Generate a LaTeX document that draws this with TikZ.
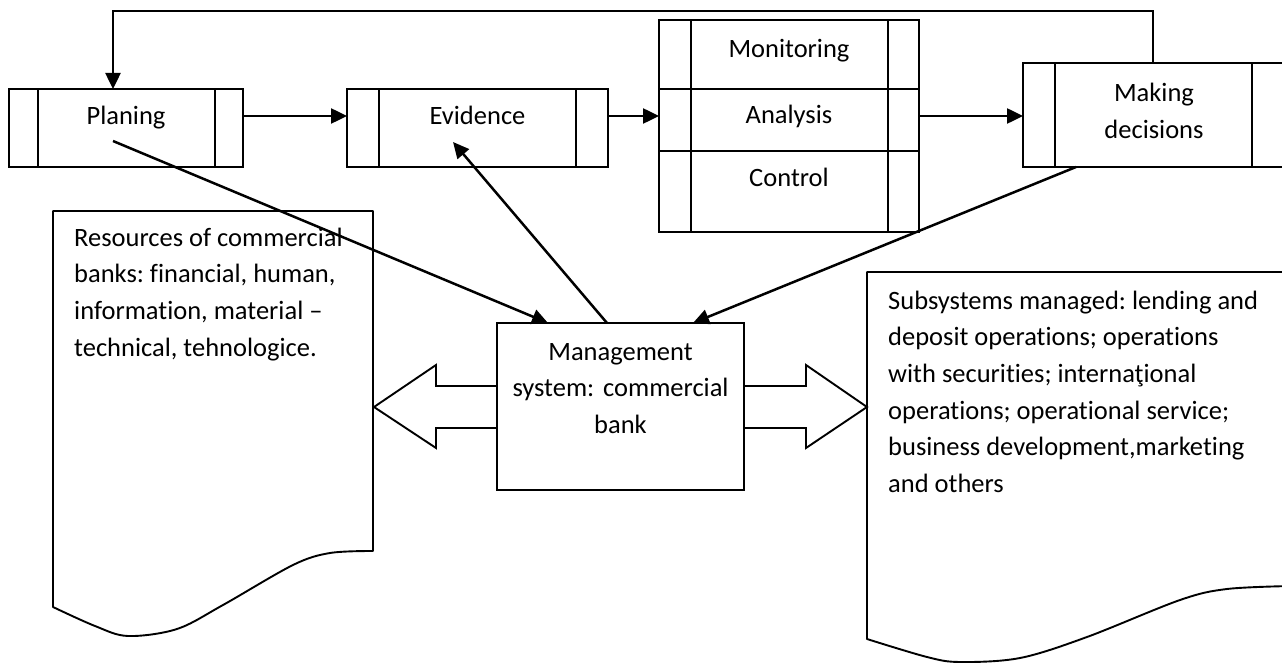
\documentclass[tikz,border=0pt]{standalone}
\usepackage{fontspec}
\setmainfont{Carlito}[Ligatures=NoCommon]
\usetikzlibrary{positioning, calc}
\usetikzlibrary{arrows.meta}
\tikzstyle{procbox}=[draw, line width=1.9pt, rectangle, inner sep=0pt, outer sep=0pt, align=center]
\tikzstyle{sysbox}=[draw, line width=1.9pt, rectangle, fill=white, inner sep=0pt, outer sep=0pt, align=center]
\tikzstyle{edgepath}=[-{Triangle[length=16pt,width=15pt]}, line width=2.5pt]
\tikzstyle{docpath}=[draw, line width=1.9pt, line join=round]
\tikzstyle{doctext}=[anchor=base west, inner sep=0pt, text width=420pt, align=flush left]
% side bars of a predefined process box
\tikzset{sidebars/.style 2 args={path picture={
    \draw[line width=1.9pt] ([xshift=#1]path picture bounding box.north west) -- ([xshift=#1]path picture bounding box.south west);
    \draw[line width=1.9pt] ([xshift=-#2]path picture bounding box.north east) -- ([xshift=-#2]path picture bounding box.south east);}}}

\begin{document}
\begin{tikzpicture}[x=1pt, y=-1pt, every node/.append style={font=\fontsize{26.5pt}{36.7pt}\selectfont\frenchspacing}]
    \useasboundingbox (0,0) rectangle (1282,663);

    % resources and subsystems
    \path[docpath] (53,211) -- (373,211) -- (373,551)
        -- plot[smooth, tension=0.55] coordinates {(373,551) (330,553) (293,565) (223,605) (177,629) (128,636) (95,626) (53,607)}
        -- cycle;
    \node[doctext] (res) at (74,246) {Resources of commercial\\banks: financial, human,\\information, material --\\technical, tehnologice.};

    \path[docpath] (867,272) -- (1292,272) -- (1292,586)
        -- plot[smooth, tension=0.55] coordinates {(1292,586) (1227,589) (1180,600) (1087,637) (1020,658) (960,662) (927,657) (867,639)}
        -- cycle;
    \node[doctext] (sub) at (888,309) {Subsystems managed: lending and\\deposit operations; operations\\with securities; interna\c{t}ional\\operations; operational service;\\business development,marketing\\and others};

    % process boxes
    \node[procbox, sidebars={29pt}{28pt}, minimum width=234pt, minimum height=78pt, text height=14pt, text depth=20pt] (plan) at (126,128) {Planing};
    \node[procbox, sidebars={32pt}{32pt}, minimum width=261pt, minimum height=78pt, text height=14pt, text depth=20pt] (evid) at (477.5,128) {Evidence};
    \node[procbox, sidebars={32pt}{31pt}, minimum width=260pt, minimum height=69pt, text height=20.5pt, text depth=13.5pt] (mon) at (789,54.5) {Monitoring};
    \node[procbox, sidebars={32pt}{31pt}, minimum width=260pt, minimum height=62pt, text height=21pt, text depth=13pt, below=0pt of mon] (ana) {Analysis};
    \node[procbox, sidebars={32pt}{31pt}, minimum width=260pt, minimum height=81pt, text height=12.5pt, text depth=21.5pt, below=0pt of ana] (ctrl) {Control};
    \node[procbox, sidebars={32pt}{33pt}, minimum width=262pt, minimum height=104pt, text width=190pt, text height=18pt, text depth=44pt] (dec) at (1154,115) {Making\\decisions};

    \node[sysbox, minimum width=247pt, minimum height=167pt, text width=240pt, text height=18pt, text depth=111pt] (mgmt) at (620.5,406.5) {Management\\system: commercial\\bank};

    % two-way block arrows
    \draw[docpath, line join=miter] ([yshift=20.5pt]mgmt.west) -- ++(-61,0) -- ++(0,-21) -- ++(-62,42) -- ++(62,41) -- ++(0,-20) -- ++(61,0);
    \draw[docpath, line join=miter] ([yshift=20.5pt]mgmt.east) -- ++(62,0) -- ++(0,-21) -- ++(61,42) -- ++(-61,41) -- ++(0,-20) -- ++(-62,0);

    % flow along the top
    \draw[edgepath] ([yshift=12pt]plan.east) -- ([yshift=12pt]evid.west);
    \draw[edgepath] ([yshift=12pt]evid.east) -- ([yshift=4pt]ana.west);
    \draw[edgepath] ([yshift=4pt]ana.east) -- ([yshift=4pt]ana.east -| dec.west);
    \draw[edgepath] ([xshift=-1pt]dec.north) -- ++(0,-52) -| ([xshift=-13pt]plan.north);

    % links with the management system
    \draw[edgepath] ([xshift=-13pt,yshift=-13pt]plan.center) -- ([xshift=-72.5pt]mgmt.north);
    \draw[edgepath] ([xshift=-13.5pt]mgmt.north) -- ([xshift=-24.5pt,yshift=-14pt]evid.center);
    \draw[edgepath] ([xshift=-78pt]dec.south) -- ([xshift=72.5pt]mgmt.north);
\end{tikzpicture}
\end{document}
